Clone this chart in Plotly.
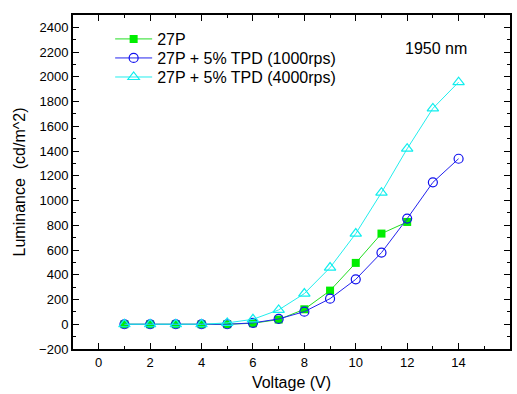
import plotly.graph_objects as go

voltage = [1, 2, 3, 4, 5, 6, 7, 8, 9, 10, 11, 12, 13, 14]
v_27p = [1, 2, 3, 4, 5, 6, 7, 8, 9, 10, 11, 12]
lum_27p = [0, 0, 0, 0, 0, 8, 38, 121, 272, 496, 733, 827]
lum_1000 = [0, 0, 0, 0, 0, 11, 43, 102, 207, 363, 579, 854, 1147, 1338]
lum_4000 = [0, 0, 0, 0, 11, 40, 116, 248, 458, 733, 1064, 1419, 1745, 1957]

names = ["27P", "27P + 5% TPD (1000rps)", "27P + 5% TPD (4000rps)"]

FONT = "Liberation Sans, Arial"

fig = go.Figure()
fig.add_trace(go.Scatter(x=v_27p, y=lum_27p, name=names[0], mode="lines+markers", legend="legend2",
                         showlegend=True,
                         line=dict(color="#22dd22", width=1),
                         marker=dict(symbol="square", size=8, color="#00ee00")))
fig.add_trace(go.Scatter(x=voltage, y=lum_1000, name=names[1], mode="lines+markers", legend="legend3",
                         showlegend=True,
                         line=dict(color="#2222ee", width=1),
                         marker=dict(symbol="circle-open", size=9, color="#1111ee", line=dict(width=1.2))))
fig.add_trace(go.Scatter(x=voltage, y=lum_4000, name=names[2], mode="lines+markers", legend="legend4",
                         showlegend=True,
                         line=dict(color="#22eeee", width=1),
                         marker=dict(symbol="triangle-up-open", size=10, color="#11eeee", line=dict(width=1.2))))

axis_common = dict(showline=True, linecolor="black", linewidth=2, mirror="ticks",
                   ticks="inside", ticklen=6, tickcolor="black", tickwidth=1,
                   showgrid=False, zeroline=False,
                   tickfont=dict(family=FONT, size=13, color="black"))

fig.update_xaxes(range=[-1, 16], dtick=2, tick0=0,
                 minor=dict(dtick=1, ticks="inside", ticklen=3, tickcolor="black"),
                 title=dict(text="Voltage (V)", font=dict(family=FONT, size=16, color="black"), standoff=8),
                 **axis_common)
fig.update_yaxes(range=[-200, 2500], dtick=200, tick0=0,
                 minor=dict(dtick=100, ticks="inside", ticklen=3, tickcolor="black"),
                 title=dict(text="Luminance  (cd/m^2)", font=dict(family=FONT, size=16, color="black"), standoff=10),
                 **axis_common)

fig.add_annotation(x=0.83, y=0.901, xref="paper", yref="paper", xanchor="center", yanchor="middle",
                   text="1950 nm", showarrow=False,
                   font=dict(family=FONT, size=16, color="black"))

leg_common = dict(x=0.085, xanchor="left", yanchor="top", bgcolor="rgba(0,0,0,0)",
                  font=dict(family=FONT, size=16, color="black"), itemwidth=37)

fig.update_layout(width=517, height=394, margin=dict(l=73, r=5, t=15, b=44),
                  plot_bgcolor="white", paper_bgcolor="white", showlegend=True,
                  legend2=dict(y=0.979, **leg_common),
                  legend3=dict(y=0.922, **leg_common),
                  legend4=dict(y=0.865, **leg_common))

fig.write_html("out.html")
